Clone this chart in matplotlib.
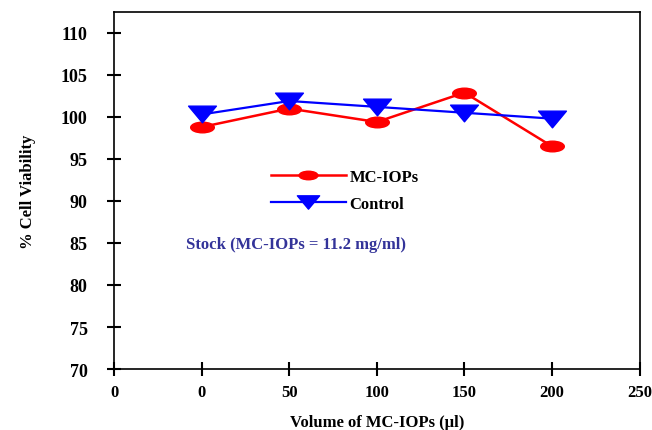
import matplotlib
matplotlib.use("Agg")
import matplotlib.pyplot as plt
import numpy as np
from matplotlib.path import Path

# categorical x positions with the labels printed under them
x_tick_labels = ["0", "0", "50", "100", "150", "200", "250"]
volumes = ["0", "50", "100", "150", "200"]
mc_iops = [98.8, 101.0, 99.4, 102.9, 96.5]
control = [100.3, 101.9, 101.2, 100.5, 99.8]

plt.rcParams["font.family"] = ["Liberation Serif", "DejaVu Serif"]

# flattened marker shapes as in the original
circ = Path.unit_circle()
ellipse = Path(circ.vertices * np.array([1.0, 0.45]), circ.codes)
tri_down = Path([(-1.0, 0.6), (1.0, 0.6), (0.0, -0.6), (-1.0, 0.6)],
                [Path.MOVETO, Path.LINETO, Path.LINETO, Path.CLOSEPOLY])

fig = plt.figure(figsize=(6.52, 4.31), dpi=100)
ax = fig.add_axes([0.175, 0.1415, 0.806, 0.8285])

xpos = np.arange(1, len(volumes) + 1)
ax.plot(xpos, mc_iops, color="red", lw=1.8, marker=ellipse, markersize=17,
        markerfacecolor="red", markeredgecolor="red", label="MC-IOPs")
ax.plot(xpos, control, color="blue", lw=1.6, marker=tri_down, markersize=20,
        markerfacecolor="blue", markeredgecolor="blue", label="Control")

ax.set_xlim(0, 6)
ax.set_ylim(70, 112.5)
ax.set_xticks(np.arange(len(x_tick_labels)))
ax.set_xticklabels(x_tick_labels)
ax.set_yticks(np.arange(70, 111, 5))
ax.tick_params(direction="inout", length=10, width=1.5, labelsize=13)
ax.tick_params(axis="y", pad=14)
ax.tick_params(axis="x", pad=6, labelsize=12)
for lbl in ax.get_xticklabels() + ax.get_yticklabels():
    lbl.set_fontweight("bold")
for sp in ax.spines.values():
    sp.set_linewidth(1.2)

ax.set_xlabel("Volume of MC-IOPs (\u00b5l)", fontsize=12, fontweight="bold", labelpad=10)
ax.set_ylabel("% Cell Viability", fontsize=12, fontweight="bold", labelpad=18)

ax.legend(loc="center left", bbox_to_anchor=(0.27, 0.50), frameon=False,
          handlelength=4.5, labelspacing=0.7, handletextpad=0.2, markerscale=0.8,
          prop={"weight": "bold", "size": 12})

ax.text(0.137, 0.35, "Stock (MC-IOPs = 11.2 mg/ml)", transform=ax.transAxes,
        color="#333399", fontsize=12, fontweight="bold", va="center")

fig.savefig("out.png", dpi=100)
